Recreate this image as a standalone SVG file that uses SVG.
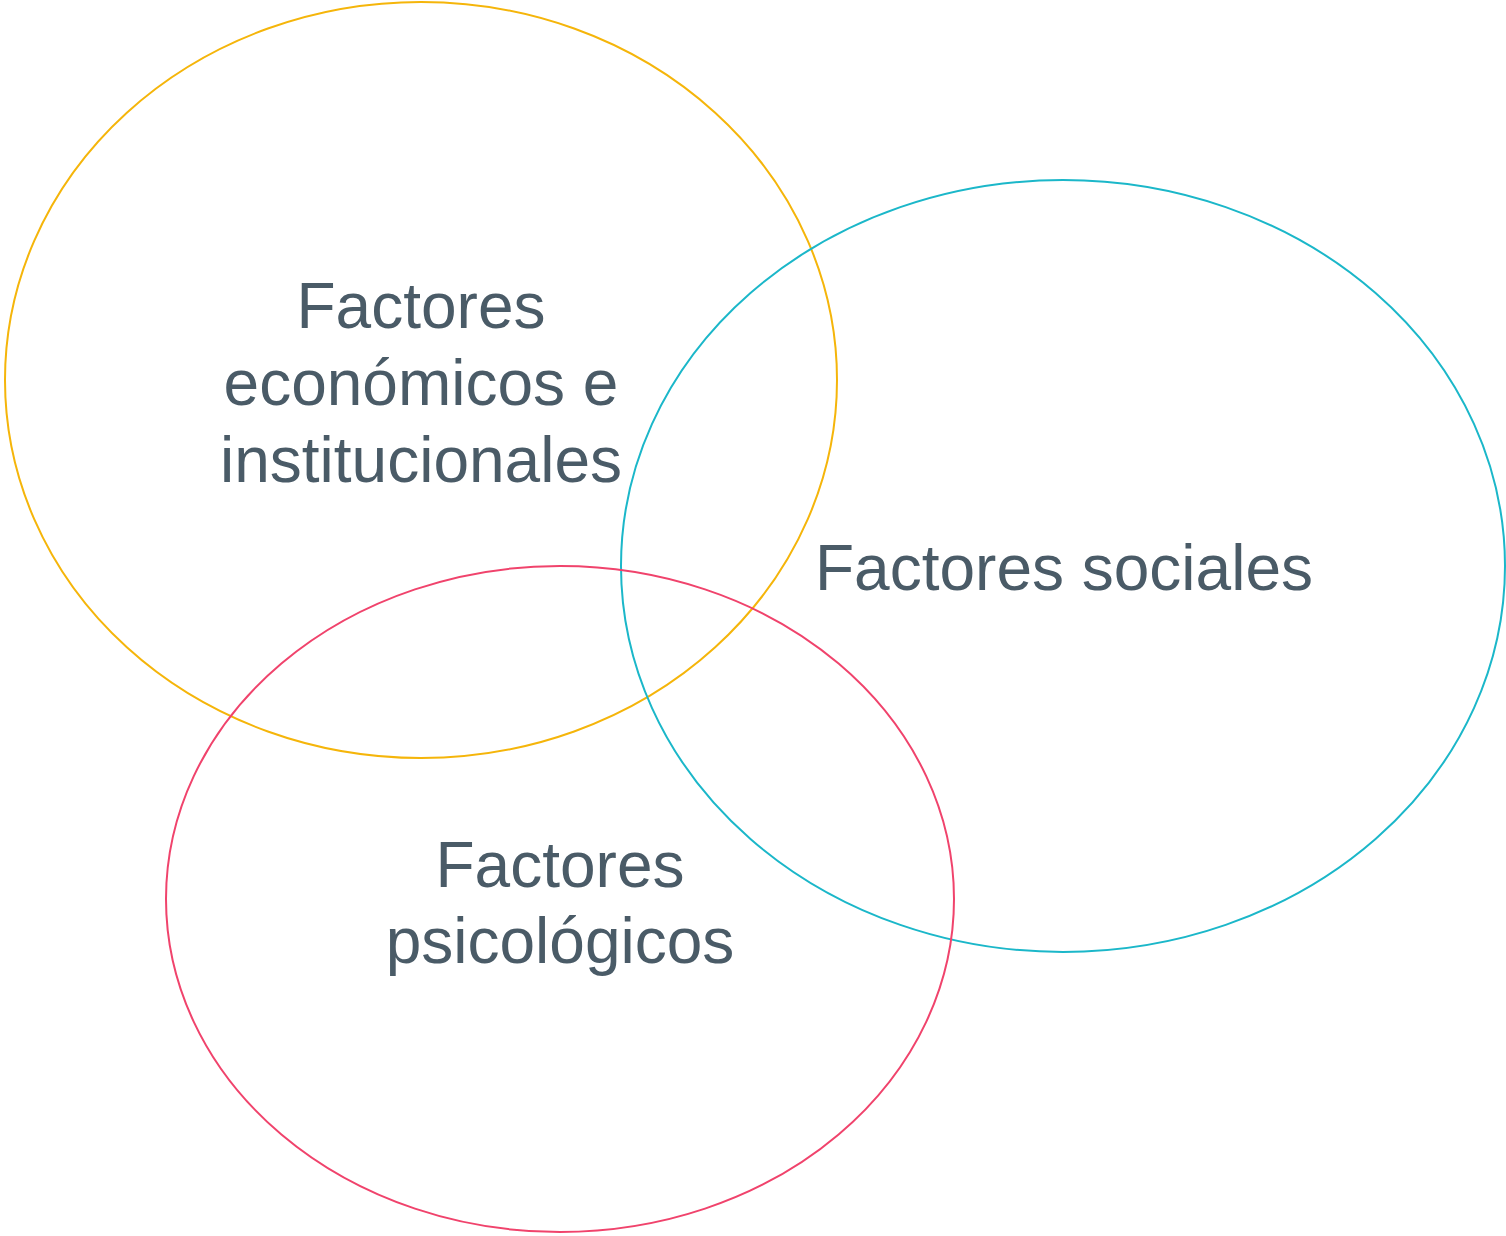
<svg xmlns="http://www.w3.org/2000/svg" width="1506" height="1236" viewBox="0 0 1506 1236">
<style>
.c{fill:none;stroke-width:2}
.t{font-family:"Liberation Sans",Arial,sans-serif;font-size:64px;fill:#4a5b67;text-anchor:middle}
</style>
<rect width="1506" height="1236" fill="#ffffff"/>
<g id="economicos">
<ellipse class="c" cx="421" cy="380" rx="416" ry="378" stroke="#f5b50a"/>
<text class="t" x="421" y="328">Factores</text>
<text class="t" x="421" y="405">económicos e</text>
<text class="t" x="421" y="482">institucionales</text>
</g>
<g id="sociales">
<ellipse class="c" cx="1063" cy="566" rx="442" ry="386" stroke="#1bb7c9"/>
<text class="t" x="1064" y="590">Factores sociales</text>
</g>
<g id="psicologicos">
<ellipse class="c" cx="560" cy="899" rx="394" ry="333" stroke="#f0436c"/>
<text class="t" x="560" y="887">Factores</text>
<text class="t" x="560" y="963">psicológicos</text>
</g>
<g id="connectors"></g>
</svg>
